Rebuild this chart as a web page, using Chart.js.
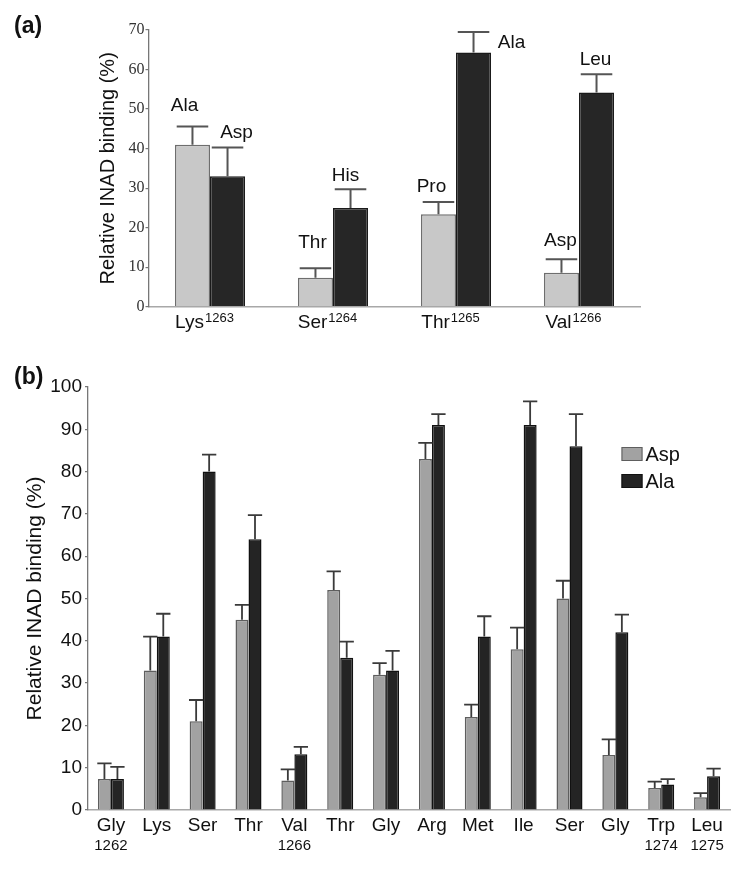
<!DOCTYPE html>
<html>
<head>
<meta charset="utf-8">
<script src="https://cdn.jsdelivr.net/npm/chart.js@4.4.1/dist/chart.umd.min.js"></script>
<style>
  body { margin: 0; background: #fff; width: 750px; height: 874px; position: relative; overflow: hidden; font-family: 'Liberation Sans', Arial, sans-serif; }
  canvas { position: absolute; left: 0; }
  #chartA { top: 0; }
  #chartB { top: 340px; }
  .tag { position: absolute; font-weight: bold; font-size: 23px; color: #111; line-height: 24px; }
</style>
</head>
<body>
<canvas id="chartA" width="750" height="340"></canvas>
<canvas id="chartB" width="750" height="534"></canvas>
<div class="tag" style="left:14px;top:13px">(a)</div>
<div class="tag" style="left:14px;top:364px">(b)</div>
<script>
// panel (a): substitutions at each position
const sites = ['Lys', 'Ser', 'Thr', 'Val'];
const siteNums = ['1263', '1264', '1265', '1266'];
const mutLight = ['Ala', 'Thr', 'Pro', 'Asp'];
const mutDark = ['Asp', 'His', 'Ala', 'Leu'];
const lightVals = [41, 7.3, 23.4, 8.6];
const lightErr = [4.6, 2.4, 3.1, 3.4];
const darkVals = [33, 25, 64.3, 54.2];
const darkErr = [7.3, 4.7, 5.2, 4.6];
const ticksA = [0, 10, 20, 30, 40, 50, 60, 70];

// panel (b): Asp / Ala scan
const residues = ['Gly', 'Lys', 'Ser', 'Thr', 'Val', 'Thr', 'Gly', 'Arg', 'Met', 'Ile', 'Ser', 'Gly', 'Trp', 'Leu'];
const residueNums = ['1262', '', '', '', '1266', '', '', '', '', '', '', '', '1274', '1275'];
const aspVals = [7.3, 33, 21, 45, 7, 52, 32, 83, 22, 38, 50, 13, 5.2, 3];
const aspErr = [3.7, 8, 5, 3.5, 2.6, 4.4, 2.7, 3.8, 2.9, 5.1, 4.2, 3.7, 1.5, 1];
const alaVals = [7.3, 41, 80, 64, 13.2, 36, 33, 91, 41, 91, 86, 42, 6, 8];
const alaErr = [2.9, 5.4, 4, 5.7, 1.7, 3.8, 4.6, 2.6, 4.8, 5.6, 7.6, 4.2, 1.3, 1.8];
const ticksB = [0, 10, 20, 30, 40, 50, 60, 70, 80, 90, 100];

const SANS = "'Liberation Sans', Arial, sans-serif";

// label nudges for panel (a) annotations, [dx, dy] in px
const mutNudge = [
  [[-8, -5], [-3, -10], [-7, 1], [-1, -3]],
  [[9, 1], [-5, 2], [38, 27], [-1, 1]]
];

// upward error bars + optional names above them
const errorBars = {
  id: 'errorBars',
  afterDatasetsDraw(chart, args, opts) {
    const { ctx } = chart;
    const y = chart.scales.y;
    ctx.save();
    chart.data.datasets.forEach((ds, i) => {
      const meta = chart.getDatasetMeta(i);
      meta.data.forEach((bar, j) => {
        const top = y.getPixelForValue(ds.data[j] + opts.errors[i][j]);
        const half = bar.width * opts.capRatio / 2;
        ctx.strokeStyle = opts.color;
        ctx.lineWidth = opts.width;
        ctx.beginPath();
        ctx.moveTo(bar.x, bar.y);
        ctx.lineTo(bar.x, top);
        ctx.moveTo(bar.x - half, top);
        ctx.lineTo(bar.x + half, top);
        ctx.stroke();
        if (opts.names) {
          const [dx, dy] = opts.nudge[i][j];
          ctx.fillStyle = '#111';
          ctx.font = '19px ' + SANS;
          ctx.textAlign = 'center';
          ctx.textBaseline = 'middle';
          ctx.fillText(opts.names[i][j], bar.x + dx, top - 16 + dy);
        }
      });
    });
    ctx.restore();
  }
};

// category labels under the axis
const xLabels = {
  id: 'xLabels',
  afterDraw(chart, args, opts) {
    const { ctx, chartArea } = chart;
    const x = chart.scales.x;
    ctx.save();
    ctx.fillStyle = '#111';
    ctx.textBaseline = 'alphabetic';
    opts.names.forEach((name, i) => {
      const cx = x.getPixelForValue(i);
      const num = opts.nums[i];
      if (opts.superscript) {
        ctx.font = opts.nameFont;
        const w1 = ctx.measureText(name).width;
        ctx.font = opts.numFont;
        const w2 = ctx.measureText(num).width;
        const start = cx - (w1 + w2) / 2 + opts.dx;
        ctx.textAlign = 'left';
        ctx.font = opts.nameFont;
        ctx.fillText(name, start, chartArea.bottom + opts.nameY);
        ctx.font = opts.numFont;
        ctx.fillText(num, start + w1 + 1, chartArea.bottom + opts.numY);
      } else {
        ctx.textAlign = 'center';
        ctx.font = opts.nameFont;
        ctx.fillText(name, cx, chartArea.bottom + opts.nameY);
        if (num) {
          ctx.font = opts.numFont;
          ctx.fillText(num, cx, chartArea.bottom + opts.numY);
        }
      }
    });
    ctx.restore();
  }
};

// boxed legend, drawn from the dataset labels and colours
const boxLegend = {
  id: 'boxLegend',
  afterDraw(chart, args, opts) {
    if (!opts.show) return;
    const { ctx } = chart;
    ctx.save();
    chart.data.datasets.forEach((ds, i) => {
      const yc = opts.y + i * opts.step;
      ctx.fillStyle = ds.backgroundColor;
      ctx.fillRect(opts.x, yc - 7, 21, 14);
      ctx.strokeStyle = ds.borderColor;
      ctx.lineWidth = 1;
      ctx.strokeRect(opts.x + 0.5, yc - 6.5, 20, 13);
      ctx.fillStyle = '#111';
      ctx.font = '20px ' + SANS;
      ctx.textAlign = 'left';
      ctx.textBaseline = 'middle';
      ctx.fillText(ds.label, opts.x + 24, yc + 1);
    });
    ctx.restore();
  }
};

function yScale(max, tickFont, tickColor, width, padding, titleSize) {
  return {
    min: 0,
    max: max,
    afterBuildTicks: s => { s.ticks = (max === 70 ? ticksA : ticksB).map(v => ({ value: v })); },
    afterFit: s => { s.width = width; },
    ticks: { font: tickFont, color: tickColor, padding: padding },
    grid: { drawOnChartArea: false, drawTicks: true, tickLength: 3, color: '#777', lineWidth: 1.2 },
    border: { color: '#777', width: 1.3 },
    title: { display: true, text: 'Relative INAD binding (%)', font: { family: SANS, size: titleSize }, color: '#111', padding: 0 }
  };
}

function xScale(height) {
  return {
    ticks: { display: false },
    grid: { display: false },
    border: { color: '#a8a8a8', width: 1.5 },
    afterFit: s => { s.height = height; }
  };
}

new Chart(document.getElementById('chartA'), {
  type: 'bar',
  data: {
    labels: sites,
    datasets: [
      { label: 'light', data: lightVals, backgroundColor: '#c8c8c8', borderColor: '#6e6e6e', borderWidth: 1.5, categoryPercentage: 0.57, barPercentage: 1 },
      { label: 'dark', data: darkVals, backgroundColor: '#262626', borderColor: '#1a1a1a', borderWidth: 1.5, categoryPercentage: 0.57, barPercentage: 1 }
    ]
  },
  options: {
    responsive: false,
    animation: false,
    layout: { padding: { left: 96, right: 109.5, top: 30, bottom: 0 } },
    plugins: {
      legend: { display: false },
      tooltip: { enabled: false },
      errorBars: { errors: [lightErr, darkErr], color: '#555', width: 2, capRatio: 0.9, names: [mutLight, mutDark], nudge: mutNudge },
      xLabels: { names: sites, nums: siteNums, superscript: true, nameFont: '19px ' + SANS, numFont: '13px ' + SANS, nameY: 21.5, numY: 15, dx: -6 },
      boxLegend: { show: false }
    },
    scales: {
      x: xScale(33.3),
      y: yScale(70, { family: "'Liberation Serif', 'Times New Roman', serif", size: 16 }, '#333', 52.5, 1, 20)
    }
  },
  plugins: [errorBars, xLabels, boxLegend]
});

new Chart(document.getElementById('chartB'), {
  type: 'bar',
  data: {
    labels: residues,
    datasets: [
      { label: 'Asp', data: aspVals, backgroundColor: '#a2a2a2', borderColor: '#5e5e5e', borderWidth: 1.5, categoryPercentage: 0.567, barPercentage: 1 },
      { label: 'Ala', data: alaVals, backgroundColor: '#242424', borderColor: '#111', borderWidth: 1.5, categoryPercentage: 0.567, barPercentage: 1 }
    ]
  },
  options: {
    responsive: false,
    animation: false,
    layout: { padding: { left: 22.4, right: 20, top: 47, bottom: 0 } },
    plugins: {
      legend: { display: false },
      tooltip: { enabled: false },
      errorBars: { errors: [aspErr, alaErr], color: '#3a3a3a', width: 1.8, capRatio: 1.1 },
      xLabels: { names: residues, nums: residueNums, superscript: false, nameFont: '19px ' + SANS, numFont: '15px ' + SANS, nameY: 21, numY: 40 },
      boxLegend: { show: true, x: 621.5, y: 114, step: 27 }
    },
    scales: {
      x: xScale(64),
      y: yScale(100, { family: SANS, size: 19 }, '#111', 65.6, 3, 21)
    }
  },
  plugins: [errorBars, xLabels, boxLegend]
});
</script>
</body>
</html>
